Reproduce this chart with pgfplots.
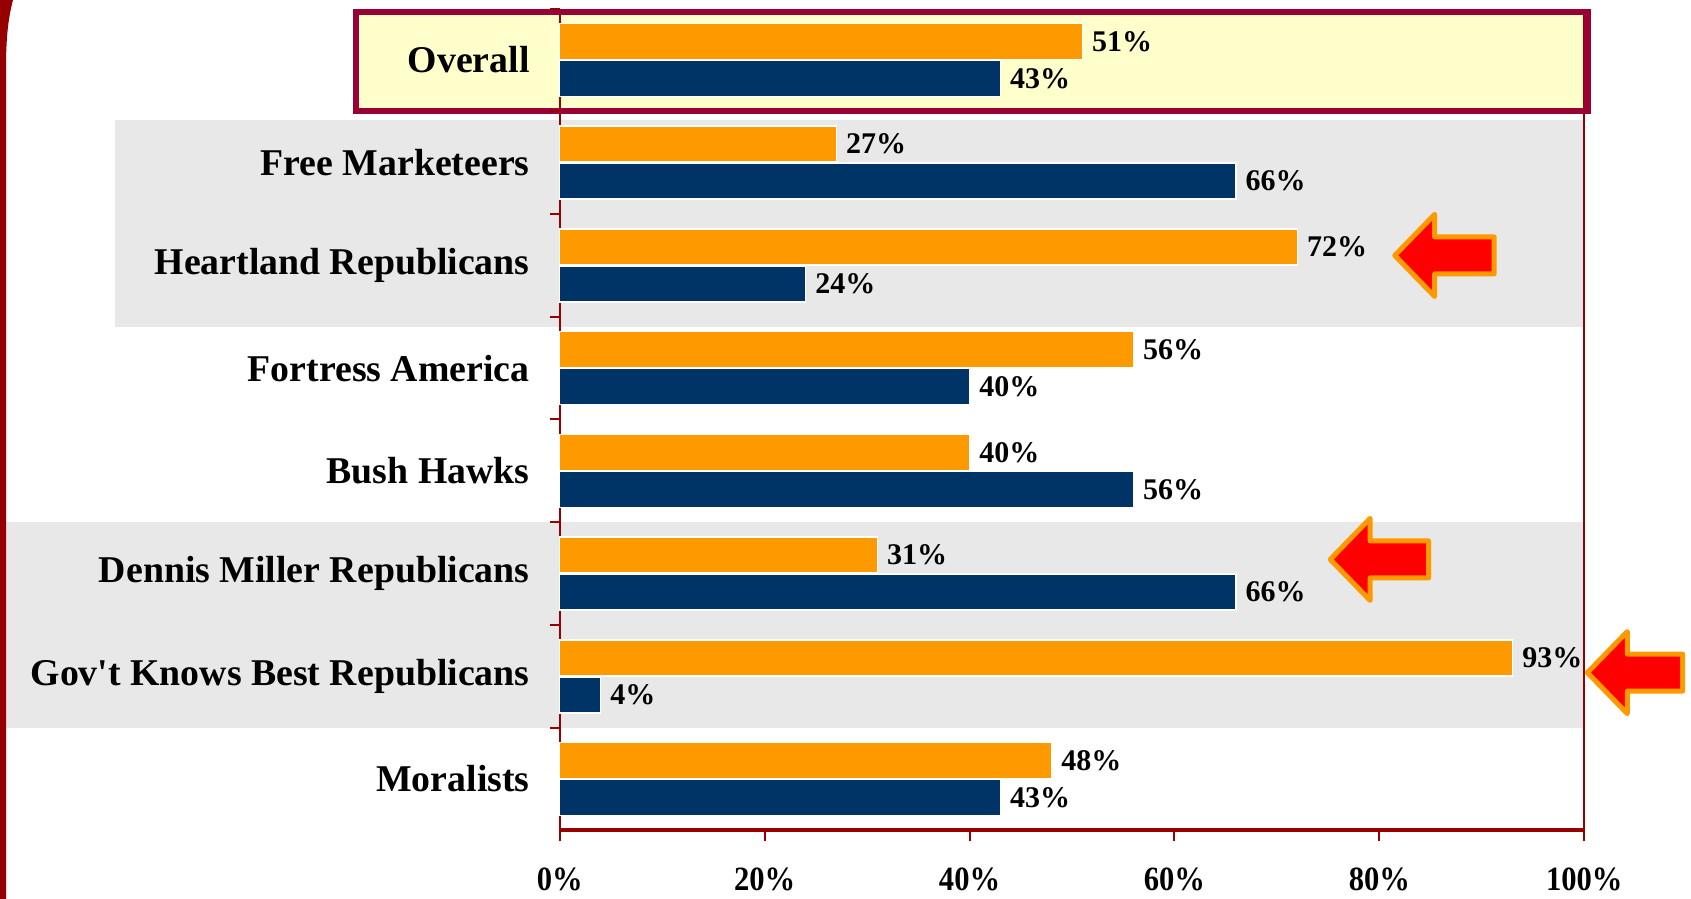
\documentclass[border=0pt]{standalone}
\usepackage{pgfplots}
\pgfplotsset{compat=1.18}
\usepackage{fontspec}
\setmainfont{Liberation Serif}
\usepackage{graphicx}
\definecolor{dred}{RGB}{150,0,0}
\definecolor{boxred}{RGB}{153,0,51}
\definecolor{boxfill}{RGB}{255,255,204}
\definecolor{band}{RGB}{232,232,232}
\definecolor{borange}{RGB}{255,153,0}
\definecolor{bnavy}{RGB}{0,51,102}
\begin{document}
\begin{tikzpicture}
\path (0,0) rectangle (1691bp,899bp);
\fill[dred] (0,899bp) -- (13bp,899bp) .. controls (8bp,880bp) and (6bp,860bp) .. (6bp,830bp) -- (6bp,0) -- (0,0) -- cycle;
\begin{axis}[
  set layers=standard,
  at={(559.7bp,68.6bp)}, anchor=south west,
  scale only axis, width=1024.6bp, height=821.8bp,
  xbar, bar width=0.35,
  xmin=0, xmax=100, ymin=-0.5, ymax=7.5, y dir=reverse,
  clip=false,
  /pgf/number format/assume math mode=true,
  axis x line*=bottom, axis y line*=left,
  x axis line style={draw=dred, line width=4bp},
  y axis line style={draw=dred, line width=2bp},
  xtick={0,20,...,100},
  xticklabel={\scalebox{0.9}[1]{\pgfmathprintnumber{\tick}\%}},
  xticklabel style={font=\bfseries\fontsize{34bp}{34bp}\selectfont, anchor=center, yshift=-38bp},
  tick align=outside, major tick length=11bp,
  xtick style={draw=dred, line width=2bp},
  ytick={0,...,7},
  yticklabels={Overall, Free Marketeers, Heartland Republicans, Fortress America, Bush Hawks, Dennis Miller Republicans, Gov\textquotesingle t Knows Best Republicans, Moralists},
  ytick style={draw=none},
  yticklabel style={font=\bfseries\fontsize{37.8bp}{40bp}\selectfont, anchor=east, inner xsep=0pt, xshift=-19bp},
  nodes near coords={\pgfmathprintnumber{\pgfplotspointmeta}\%},
  every node near coord/.append style={font=\bfseries\fontsize{30bp}{30bp}\selectfont, anchor=west, inner xsep=0pt, xshift=9bp, text=black},
]
\begin{pgfonlayer}{axis background}
\fill[band] (axis cs:-43.4,0.58) rectangle (axis cs:100,2.6);
\fill[band] (axis cs:-54.1,4.5) rectangle (axis cs:100,6.5);
\fill[boxfill] (axis cs:-20.2,-0.5) rectangle (axis cs:100.6,0.53);
\draw[dred, line width=2bp] (axis cs:100,-0.5) -- (axis cs:100,7.5);
\end{pgfonlayer}

\addplot[fill=borange, draw=white, line width=1.5bp, bar shift=-0.18] coordinates {
  (51,0) (27,1) (72,2) (56,3) (40,4) (31,5) (93,6) (48,7)};
\addplot[fill=bnavy, draw=white, line width=1.5bp, bar shift=0.18] coordinates {
  (43,0) (66,1) (24,2) (40,3) (56,4) (66,5) (4,6) (43,7)};

\begin{pgfonlayer}{axis foreground}
\draw[boxred, line width=6.5bp] (axis cs:-19.9,-0.468) rectangle (axis cs:100.3,0.498);
\draw[dred, line width=2bp] (axis cs:0,-0.5) -- ([xshift=-10bp]axis cs:0,-0.5);
\draw[dred, line width=2bp] (axis cs:0,0.5) -- ([xshift=-10bp]axis cs:0,0.5);
\draw[dred, line width=2bp] (axis cs:0,1.5) -- ([xshift=-10bp]axis cs:0,1.5);
\draw[dred, line width=2bp] (axis cs:0,2.5) -- ([xshift=-10bp]axis cs:0,2.5);
\draw[dred, line width=2bp] (axis cs:0,3.5) -- ([xshift=-10bp]axis cs:0,3.5);
\draw[dred, line width=2bp] (axis cs:0,4.5) -- ([xshift=-10bp]axis cs:0,4.5);
\draw[dred, line width=2bp] (axis cs:0,5.5) -- ([xshift=-10bp]axis cs:0,5.5);
\draw[dred, line width=2bp] (axis cs:0,6.5) -- ([xshift=-10bp]axis cs:0,6.5);
\draw[borange, fill=red, line width=5bp, line join=round]
  (axis cs:81.5,1.903) -- (axis cs:85.4,1.503) -- (axis cs:85.4,1.723) -- (axis cs:91.2,1.723)
  -- (axis cs:91.2,2.083) -- (axis cs:85.4,2.083) -- (axis cs:85.4,2.303) -- cycle;
\draw[borange, fill=red, line width=5bp, line join=round]
  (axis cs:75.2,4.862) -- (axis cs:79.1,4.462) -- (axis cs:79.1,4.682) -- (axis cs:84.8,4.682)
  -- (axis cs:84.8,5.042) -- (axis cs:79.1,5.042) -- (axis cs:79.1,5.262) -- cycle;
\draw[borange, fill=red, line width=5bp, line join=round]
  (axis cs:100.3,5.964) -- (axis cs:104.2,5.564) -- (axis cs:104.2,5.784) -- (axis cs:109.6,5.784)
  -- (axis cs:109.6,6.144) -- (axis cs:104.2,6.144) -- (axis cs:104.2,6.364) -- cycle;
\end{pgfonlayer}
\end{axis}
\end{tikzpicture}
\end{document}
